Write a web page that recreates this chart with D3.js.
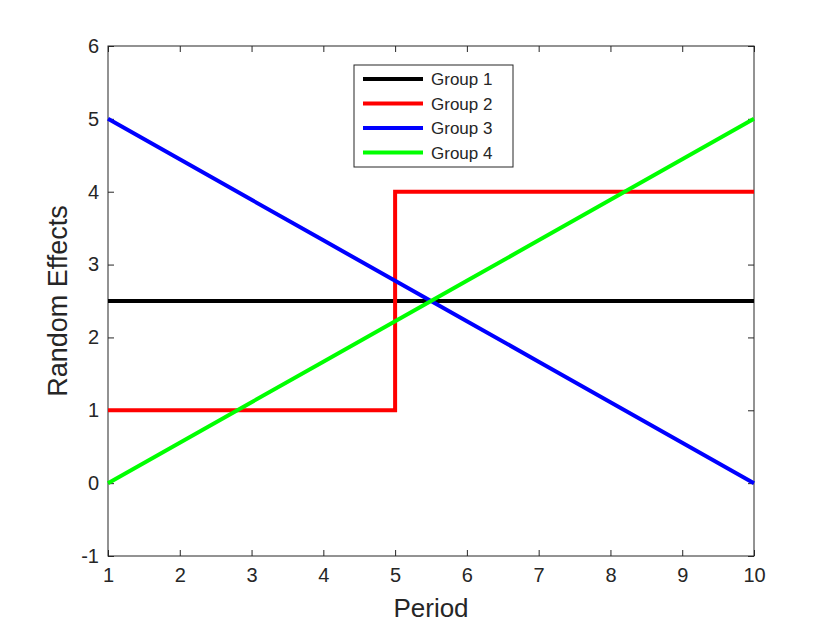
<!DOCTYPE html>
<html>
<head>
<meta charset="utf-8">
<script src="https://cdn.jsdelivr.net/npm/d3@7"></script>
<style>
body { margin: 0; background: #fff; }
text { font-family: "Liberation Sans", Arial, sans-serif; fill: #262626; }
</style>
</head>
<body>
<svg id="chart" width="833" height="625"></svg>
<script>

var xTicks = [1, 2, 3, 4, 5, 6, 7, 8, 9, 10]
var yTicks = [-1, 0, 1, 2, 3, 4, 5, 6]

var names = ["Group 1", "Group 2", "Group 3", "Group 4"]
var colors = ["#000000", "#ff0000", "#0000ff", "#00ff00"]

var period1 = [1, 2, 3, 4, 5, 6, 7, 8, 9, 10]
var group1 = [2.5, 2.5, 2.5, 2.5, 2.5, 2.5, 2.5, 2.5, 2.5, 2.5]

var period2 = [1, 2, 3, 4, 5, 5, 6, 7, 8, 9, 10]
var group2 = [1, 1, 1, 1, 1, 4, 4, 4, 4, 4, 4]

var period3 = [1, 2, 3, 4, 5, 6, 7, 8, 9, 10]
var group3 = [5, 4.444, 3.889, 3.333, 2.778, 2.222, 1.667, 1.111, 0.556, 0]

var period4 = [1, 2, 3, 4, 5, 6, 7, 8, 9, 10]
var group4 = [0, 0.556, 1.111, 1.667, 2.222, 2.778, 3.333, 3.889, 4.444, 5]

var series = [
    { x: period1, y: group1 },
    { x: period2, y: group2 },
    { x: period3, y: group3 },
    { x: period4, y: group4 }
]

var pLeft = 108, pRight = 754, pTop = 46, pBottom = 556

var svg = d3.select("#chart")

var x = d3.scaleLinear().domain([1, 10]).range([pLeft, pRight])
var y = d3.scaleLinear().domain([-1, 6]).range([pBottom, pTop])

var plain = function(d) { return String(d) }

// axes, ticks pointing inward like matlab
svg.append("g")
        .attr("transform", "translate(0," + pBottom + ")")
        .call(d3.axisBottom(x).tickValues(xTicks).tickFormat(plain).tickSizeInner(-6).tickSizeOuter(0).tickPadding(12))
        .call(function(g) { g.select(".domain").remove() })
        .selectAll("text").attr("font-size", "20px")

svg.append("g")
        .attr("transform", "translate(" + pLeft + ",0)")
        .call(d3.axisLeft(y).tickValues(yTicks).tickFormat(plain).tickSizeInner(-6).tickSizeOuter(0).tickPadding(9))
        .call(function(g) { g.select(".domain").remove() })
        .selectAll("text").attr("font-size", "20px")

svg.append("g")
        .attr("transform", "translate(0," + pTop + ")")
        .call(d3.axisTop(x).tickValues(xTicks).tickSizeInner(-6).tickSizeOuter(0).tickFormat(""))
        .call(function(g) { g.select(".domain").remove() })

svg.append("g")
        .attr("transform", "translate(" + pRight + ",0)")
        .call(d3.axisRight(y).tickValues(yTicks).tickSizeInner(-6).tickSizeOuter(0).tickFormat(""))
        .call(function(g) { g.select(".domain").remove() })

svg.selectAll(".tick line").attr("stroke", "#262626")

svg.append("rect")
        .attr("x", pLeft)
        .attr("y", pTop)
        .attr("width", pRight - pLeft)
        .attr("height", pBottom - pTop)
        .attr("fill", "none")
        .attr("stroke", "#262626")
        .attr("stroke-width", 1)

var line = d3.line()
        .x(function(d) { return x(d[0]) })
        .y(function(d) { return y(d[1]) })

series.forEach(function(s, i) {
    svg.append("path")
            .datum(d3.zip(s.x, s.y))
            .attr("d", line)
            .attr("fill", "none")
            .attr("stroke", colors[i])
            .attr("stroke-width", 4)
})

svg.append("text")
        .attr("x", (pLeft + pRight) / 2)
        .attr("y", 617)
        .attr("text-anchor", "middle")
        .attr("font-size", "26px")
        .text("Period")

svg.append("text")
        .attr("transform", "translate(67," + (pTop + pBottom) / 2 + ") rotate(-90)")
        .attr("text-anchor", "middle")
        .attr("font-size", "27px")
        .text("Random Effects")

// legend
var legend = svg.append("g")
        .attr("transform", "translate(354,65)")

legend.append("rect")
        .attr("width", 159)
        .attr("height", 102)
        .attr("fill", "#fff")
        .attr("stroke", "#262626")
        .attr("stroke-width", 1)

names.forEach(function(n, i) {
    var ly = 14 + i * 24.5
    legend.append("line")
            .attr("x1", 9).attr("x2", 69)
            .attr("y1", ly).attr("y2", ly)
            .attr("stroke", colors[i])
            .attr("stroke-width", 4)
    legend.append("text")
            .attr("x", 77)
            .attr("y", ly + 6)
            .attr("font-size", "17px")
            .attr("fill", "#000")
            .text(n)
})

</script>
</body>
</html>
